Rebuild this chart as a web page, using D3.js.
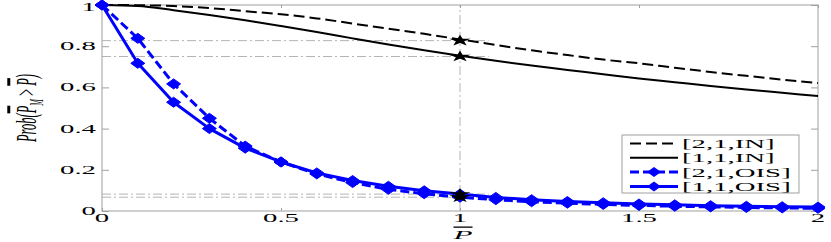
<!DOCTYPE html>
<html>
<head>
<meta charset="utf-8">
<script src="https://cdn.jsdelivr.net/npm/d3@7"></script>
<style>
  body { margin: 0; background: #fff; }
  svg { display: block; }
  text { font-family: 'Liberation Serif', 'DejaVu Serif', serif; fill: #000; }
</style>
</head>
<body>
<svg id="chart" width="831" height="242"></svg>
<script>
// normalised threshold P-bar on the x axis
let xs = [0, 0.1, 0.2, 0.3, 0.4, 0.5, 0.6, 0.7, 0.8, 0.9, 1, 1.1, 1.2, 1.3, 1.4, 1.5, 1.6, 1.7, 1.8, 1.9, 2]
let in21 = [1, 0.999, 0.995, 0.985, 0.97, 0.955, 0.935, 0.91, 0.885, 0.86, 0.833, 0.806, 0.78, 0.757, 0.735, 0.717, 0.695, 0.675, 0.656, 0.638, 0.621]
let in11 = [1, 0.995, 0.975, 0.952, 0.926, 0.898, 0.869, 0.838, 0.808, 0.78, 0.754, 0.729, 0.706, 0.685, 0.664, 0.643, 0.625, 0.607, 0.59, 0.574, 0.558]
let ois21 = [1, 0.838, 0.617, 0.45, 0.315, 0.238, 0.18, 0.138, 0.105, 0.084, 0.067, 0.055, 0.045, 0.038, 0.032, 0.027, 0.023, 0.02, 0.017, 0.015, 0.013]
let ois11 = [1, 0.717, 0.528, 0.4, 0.305, 0.238, 0.185, 0.148, 0.12, 0.098, 0.082, 0.066, 0.055, 0.046, 0.04, 0.034, 0.03, 0.026, 0.023, 0.021, 0.019]
let legendNames = ['[2,1,IN]', '[1,1,IN]', '[2,1,OIS]', '[1,1,OIS]']
let xTicks = [0, 0.5, 1, 1.5, 2]
let yTicks = [0, 0.2, 0.4, 0.6, 0.8, 1]
let refX = 1
let refXEnd = 1.08
let refLevels = [0.827, 0.75, 0.082, 0.067]

let chart = d3.select('#chart')
let x = d3.scaleLinear().domain([0, 2]).range([102, 818])
let y = d3.scaleLinear().domain([0, 1]).range([211, 5])
let SX = 2.4 // the figure is stretched sideways, so is its text
let gray = '#a0a0a0'

function label(px, py, str, anchor, italic) {
    return chart.append('text')
        .attr('transform', `translate(${px},${py}) scale(${SX},1)`)
        .attr('text-anchor', anchor)
        .attr('font-size', 12)
        .attr('font-style', italic ? 'italic' : 'normal')
        .text(str)
}

// reference lines (dash-dot)
let refs = chart.append('g')
    .attr('stroke', '#b4b4b4')
    .attr('stroke-width', 1)
    .attr('stroke-dasharray', '9,3,2,3')
refs.append('line')
    .attr('x1', x(refX)).attr('x2', x(refX))
    .attr('y1', y(0)).attr('y2', y(1))
refs.selectAll('line.h')
    .data(refLevels)
    .enter()
    .append('line')
    .attr('class', 'h')
    .attr('x1', x(0)).attr('x2', x(refXEnd))
    .attr('y1', (d) => y(d)).attr('y2', (d) => y(d))

// frame and inward ticks
chart.append('rect')
    .attr('x', x(0)).attr('y', y(1))
    .attr('width', x(2) - x(0)).attr('height', y(0) - y(1))
    .attr('fill', 'none').attr('stroke', gray)

let axes = [
    [d3.axisBottom(x).tickValues(xTicks).tickSize(-3), `translate(0,${y(0)})`],
    [d3.axisTop(x).tickValues(xTicks).tickSize(-3), `translate(0,${y(1)})`],
    [d3.axisLeft(y).tickValues(yTicks).tickSize(-7), `translate(${x(0)},0)`],
    [d3.axisRight(y).tickValues(yTicks).tickSize(-7), `translate(${x(2)},0)`]
]
axes.forEach(([ax, tr]) => {
    let g = chart.append('g').attr('transform', tr).call(ax.tickFormat(''))
    g.select('.domain').remove()
    g.selectAll('line').attr('stroke', gray)
})

// tick labels
xTicks.forEach((t) => label(x(t), 222, d3.format('')(t), 'middle'))
yTicks.forEach((t) => label(96, Math.max(y(t) + 4, 11), d3.format('')(t), 'end'))

// axis titles
let xl = label(x(1) + 3, 239, '', 'middle', true).attr('font-size', 13)
xl.append('tspan').attr('text-decoration', 'overline').text('P')

let yl = chart.append('text')
    .attr('transform', `translate(36,108) rotate(-90) scale(1,${SX})`)
    .attr('text-anchor', 'middle')
    .attr('font-size', 12.5)
    .attr('font-style', 'italic')
yl.append('tspan').text('Prob(')
yl.append('tspan').attr('text-decoration', 'overline').text('P')
yl.append('tspan').attr('font-size', 8).attr('dy', 3).text('M')
yl.append('tspan').attr('dy', -3).attr('font-style', 'normal').text(' > ')
yl.append('tspan').attr('text-decoration', 'overline').text('P')
yl.append('tspan').text(')')

// series
let series = [
    { vals: in21, color: '#000', width: 2, dash: '11,5', curve: d3.curveMonotoneX, marker: false },
    { vals: in11, color: '#000', width: 2, dash: null, curve: d3.curveMonotoneX, marker: false },
    { vals: ois21, color: '#0000ff', width: 3, dash: '9,4', curve: d3.curveLinear, marker: true },
    { vals: ois11, color: '#0000ff', width: 3, dash: null, curve: d3.curveLinear, marker: true }
]

let diamond = 'M-7,0L0,-5L7,0L0,5Z'
let star = d3.symbol().type(d3.symbolStar).size(40)()

series.forEach((s) => {
    let pts = xs.map((d, i) => [d, s.vals[i]])
    chart.append('path')
        .datum(pts)
        .attr('fill', 'none')
        .attr('stroke', s.color)
        .attr('stroke-width', s.width)
        .attr('stroke-dasharray', s.dash)
        .attr('stroke-linejoin', 'round')
        .attr('d', d3.line().x((d) => x(d[0])).y((d) => y(d[1])).curve(s.curve))
    if (s.marker) {
        chart.append('g')
            .selectAll('path')
            .data(pts)
            .enter()
            .append('path')
            .attr('transform', (d) => `translate(${x(d[0])},${y(d[1])})`)
            .attr('d', diamond)
            .attr('fill', s.color)
            .attr('stroke', s.color)
            .attr('stroke-width', 1)
    }
})

// stars at the reference threshold
chart.append('g')
    .selectAll('path')
    .data(refLevels)
    .enter()
    .append('path')
    .attr('transform', (d) => `translate(${x(refX)},${y(d)}) scale(1.9,1)`)
    .attr('d', star)
    .attr('fill', '#000')

// legend
let lg = chart.append('g').attr('transform', 'translate(622,135)')
lg.append('rect')
    .attr('width', 177).attr('height', 58)
    .attr('fill', '#fff').attr('stroke', gray)
legendNames.forEach((name, i) => {
    let s = series[i]
    let ly = 8.5 + i * 14.3
    lg.append('line')
        .attr('x1', 8).attr('x2', 56)
        .attr('y1', ly).attr('y2', ly)
        .attr('stroke', s.color)
        .attr('stroke-width', s.width)
        .attr('stroke-dasharray', s.dash)
    if (s.marker) {
        lg.append('path')
            .attr('transform', `translate(32,${ly})`)
            .attr('d', diamond)
            .attr('fill', s.color)
    }
    lg.append('text')
        .attr('transform', `translate(60,${ly + 4.5}) scale(${SX},1)`)
        .attr('font-size', 12)
        .text(name)
})
</script>
</body>
</html>
